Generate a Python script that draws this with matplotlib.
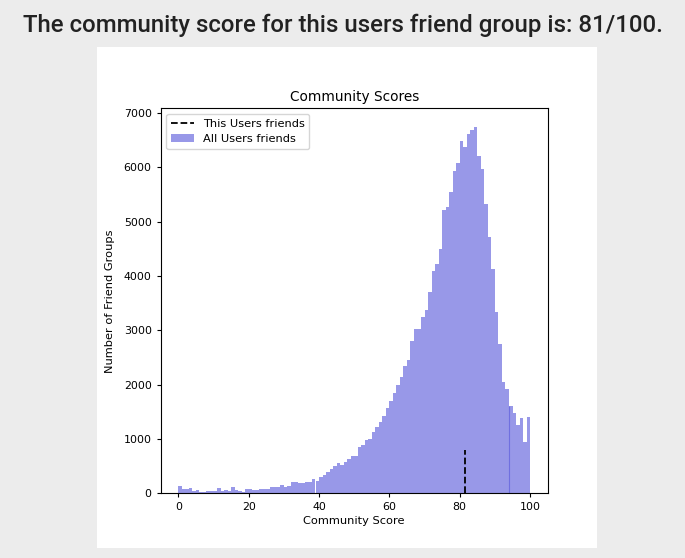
import matplotlib
matplotlib.use("Agg")
import matplotlib.pyplot as plt
from matplotlib.patches import Rectangle
import numpy as np

# histogram counts per 1-point bin, 0..100
counts = [140, 80, 88, 105, 45, 60, 30, 30, 38, 45,
          42, 92, 50, 68, 42, 125, 55, 38, 30, 80,
          72, 65, 68, 80, 85, 78, 120, 115, 118, 160,
          120, 140, 215, 200, 195, 198, 200, 205, 255, 235,
          305, 335, 385, 440, 500, 550, 520, 575, 640, 685,
          685, 860, 890, 975, 1000, 1135, 1228, 1308, 1430, 1575,
          1690, 1850, 1990, 2143, 2345, 2449, 2810, 3031, 3031, 3250,
          3368, 3704, 4090, 4215, 4501, 5205, 5266, 5541, 5940, 6074,
          6491, 6368, 6614, 6687, 6748, 6215, 5970, 5327, 4714, 4134,
          3337, 2756, 2051, 1915, 1598, 1481, 1255, 1378, 949, 1412]
edges = np.arange(0, 101)
user_score = 81.5
user_marker_height = 800
heading = "The community score for this users friend group is: 81/100."

fig = plt.figure(figsize=(6.85, 5.58), dpi=100)
fig.patch.set_facecolor('#ececec')

# white card behind the plot
fig.patches.append(Rectangle((97/685, 1-548/558), 500/685, 501/558,
                             transform=fig.transFigure, facecolor='white',
                             edgecolor='none', zorder=-10))

fig.text(0.5, 1-25/558, heading, ha='center', va='center',
         fontsize=17.3, fontweight='medium', color='#222222',
         family=['Roboto', 'DejaVu Sans'])

ax = fig.add_axes([160.7/685, 1-493.3/558, 387/685, 385/558])
ax.bar(edges[:-1], counts, width=1, align='edge', color='#9898e8',
       edgecolor='none', label='All Users friends')
ax.vlines(edges[94], 0, counts[94], color='#7070e0', lw=0.8)
ax.vlines(user_score, 0, user_marker_height, colors='black',
          linestyles='--', lw=1.3, label='This Users friends')

ax.set_xlim(-5, 105)
ax.set_ylim(0, max(counts) * 1.05)
ax.set_xticks([0, 20, 40, 60, 80, 100])
ax.set_yticks(range(0, 7001, 1000))
ax.tick_params(labelsize=7.9, length=3, width=0.8)
for s in ax.spines.values():
    s.set_linewidth(0.8)

ax.set_title('Community Scores', fontsize=9.8, pad=5)
ax.set_xlabel('Community Score', fontsize=8.2, labelpad=3)
ax.set_ylabel('Number of Friend Groups', fontsize=8.2, labelpad=6)

ax.legend(loc='upper left', fontsize=8.2, handlelength=2.0,
          borderaxespad=0.5)

fig.savefig('out.png', dpi=100, facecolor=fig.get_facecolor())
